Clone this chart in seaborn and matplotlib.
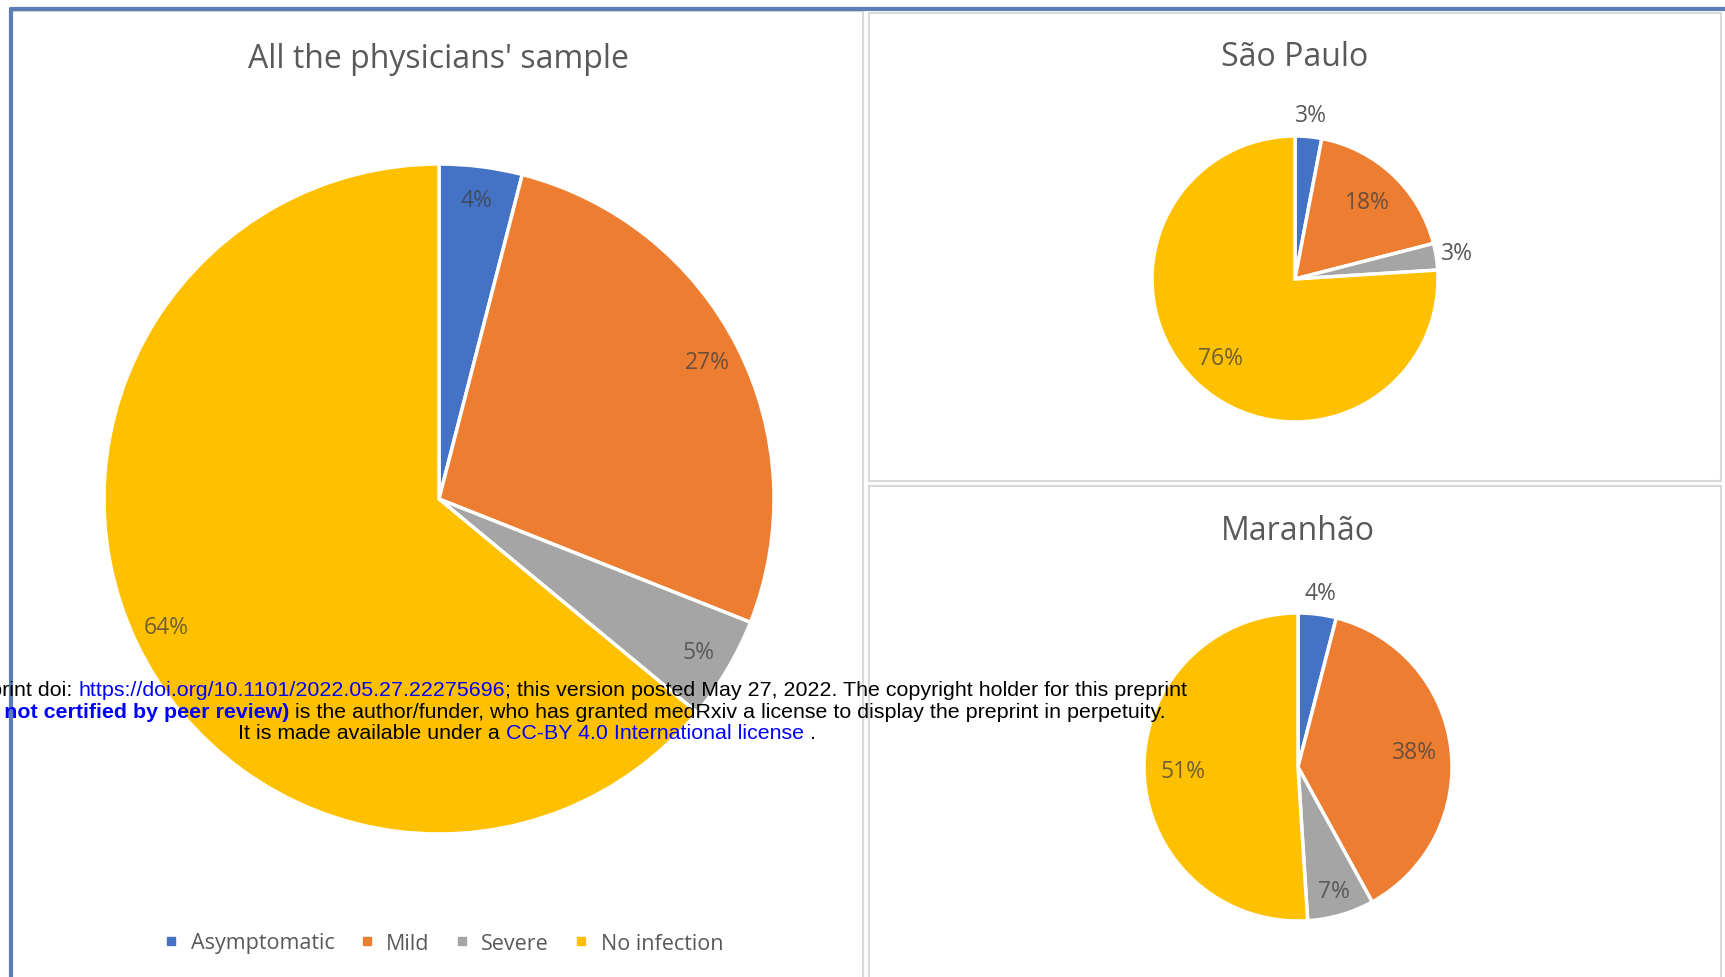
import numpy as np
import matplotlib
matplotlib.use("Agg")
import matplotlib.pyplot as plt
from matplotlib.lines import Line2D
import seaborn as sns

sns.set_theme(style="white")
plt.rcParams["font.family"] = ["Open Sans", "DejaVu Sans"]

# ─── DATA ─────────────────────────────────────────────────────────────────────
CATEGORIES = ["Asymptomatic", "Mild", "Severe", "No infection"]
ALL_SAMPLE = [4, 27, 5, 64]
SAO_PAULO  = [3, 18, 3, 76]
MARANHAO   = [4, 38, 7, 51]
TITLES     = ["All the physicians' sample", "São Paulo", "Maranhão"]

# ─── STYLE ────────────────────────────────────────────────────────────────────
COLORS   = ["#4472C4", "#ED7D31", "#A5A5A5", "#FFC000"]
TXT      = "#595959"
BORDER   = "#D9D9D9"
W, H     = 1725, 978

fig = plt.figure(figsize=(W / 100, H / 100), dpi=100)
fig.patch.set_facecolor("white")


def px_axes(cx, cy, r, pad=1.05):
    """Square axes in pixel coords (cy measured from top) holding a pie of radius r."""
    side = 2 * pad * r
    ax = fig.add_axes([(cx - pad * r) / W, (H - cy - pad * r) / H, side / W, side / H])
    return ax, pad


def draw_pie(ax, pad, values, dists, fsize):
    wedges, _, autotexts = ax.pie(
        values, colors=COLORS, startangle=90, counterclock=False,
        autopct="%1.0f%%", wedgeprops={"edgecolor": "white", "linewidth": 2.5},
        textprops={"fontsize": fsize},
    )
    for w, t, d in zip(wedges, autotexts, dists):
        mid = np.deg2rad((w.theta1 + w.theta2) / 2)
        t.set_position((d * np.cos(mid), d * np.sin(mid)))
        if d > 1:
            t.set_color(TXT)
        else:
            t.set_color("#404040")
            t.set_alpha(0.75)
    ax.set_xlim(-pad, pad)
    ax.set_ylim(-pad, pad)
    ax.set_aspect("equal")
    ax.axis("off")
    return wedges


# panel frames
def frame(x0, y0, x1, y1, color=BORDER, lw=1.5):
    xs = np.array([x0, x1, x1, x0, x0]) / W
    ys = 1 - np.array([y0, y0, y1, y1, y0]) / H
    fig.add_artist(Line2D(xs, ys, color=color, lw=lw))

frame(11, 12, 863, 990)
frame(869, 14, 1721, 482)
frame(869, 487, 1721, 990)
# outer blue border (top and left)
fig.add_artist(Line2D([11 / W, 1], [1 - 10 / H, 1 - 10 / H], color="#5B7DB8", lw=3))
fig.add_artist(Line2D([11 / W, 11 / W], [0, 1 - 10 / H], color="#5B7DB8", lw=3))

# ─── PIES ─────────────────────────────────────────────────────────────────────
ax1, p1 = px_axes(439, 500, 335)
draw_pie(ax1, p1, ALL_SAMPLE, [0.9, 0.9, 0.9, 0.9], 16.5)

ax2, p2 = px_axes(1295, 280, 143)
draw_pie(ax2, p2, SAO_PAULO, [1.15, 0.74, 1.15, 0.76], 16.5)

ax3, p3 = px_axes(1298, 768, 154)
draw_pie(ax3, p3, MARANHAO, [1.14, 0.76, 0.84, 0.75], 16.5)

for title, (x, y) in zip(TITLES, [(438, 60), (1295, 58), (1298, 532)]):
    fig.text(x / W, 1 - y / H, title, ha="center", va="center",
             fontsize=23, color=TXT)

# legend
handles = [Line2D([], [], marker="s", ls="", color=c, markersize=6) for c in COLORS]
fig.legend(handles, CATEGORIES, loc="center", bbox_to_anchor=(442 / W, 1 - 944 / H),
           ncol=4, frameon=False, fontsize=15.5, labelcolor=TXT,
           handletextpad=0.4, columnspacing=1.0, handlelength=1.0)

# ─── medRxiv overlay ──────────────────────────────────────────────────────────
renderer = fig.canvas.get_renderer()
OVL = ["Liberation Sans", "DejaVu Sans"]
FS = 15.4
BLUE = "#0000FF"


def run(pieces, x, y):
    for txt, col, wt in pieces:
        t = fig.text(x / W, 1 - y / H, txt, color=col, fontsize=FS, family=OVL,
                     fontweight=wt, ha="left", va="baseline")
        x += t.get_window_extent(renderer).width
    return x


def width(pieces):
    tot = 0
    for txt, col, wt in pieces:
        t = fig.text(0, 0, txt, fontsize=FS, family=OVL, fontweight=wt)
        tot += t.get_window_extent(renderer).width
        t.remove()
    return tot


head1 = [("medRxiv preprint doi: ", "black", "normal")]
line1 = [("https://doi.org/10.1101/2022.05.27.22275696", BLUE, "normal"),
         ("; this version posted May 27, 2022. The copyright holder for this preprint", "black", "normal")]
head2 = [("(which was not certified by peer review)", BLUE, "bold")]
line2 = [(" is the author/funder, who has granted medRxiv a license to display the preprint in perpetuity.", "black", "normal")]
line3 = [("It is made available under a ", "black", "normal"),
         ("CC-BY 4.0 International license", BLUE, "normal"),
         (" .", "black", "normal")]

run(head1, 78 - width(head1), 696)
run(line1, 78, 696)
run(head2, 289 - width(head2), 718)
run(line2, 289, 718)
run(line3, 527 - width(line3) / 2, 739)

plt.savefig("out.png", dpi=100)
plt.close()
